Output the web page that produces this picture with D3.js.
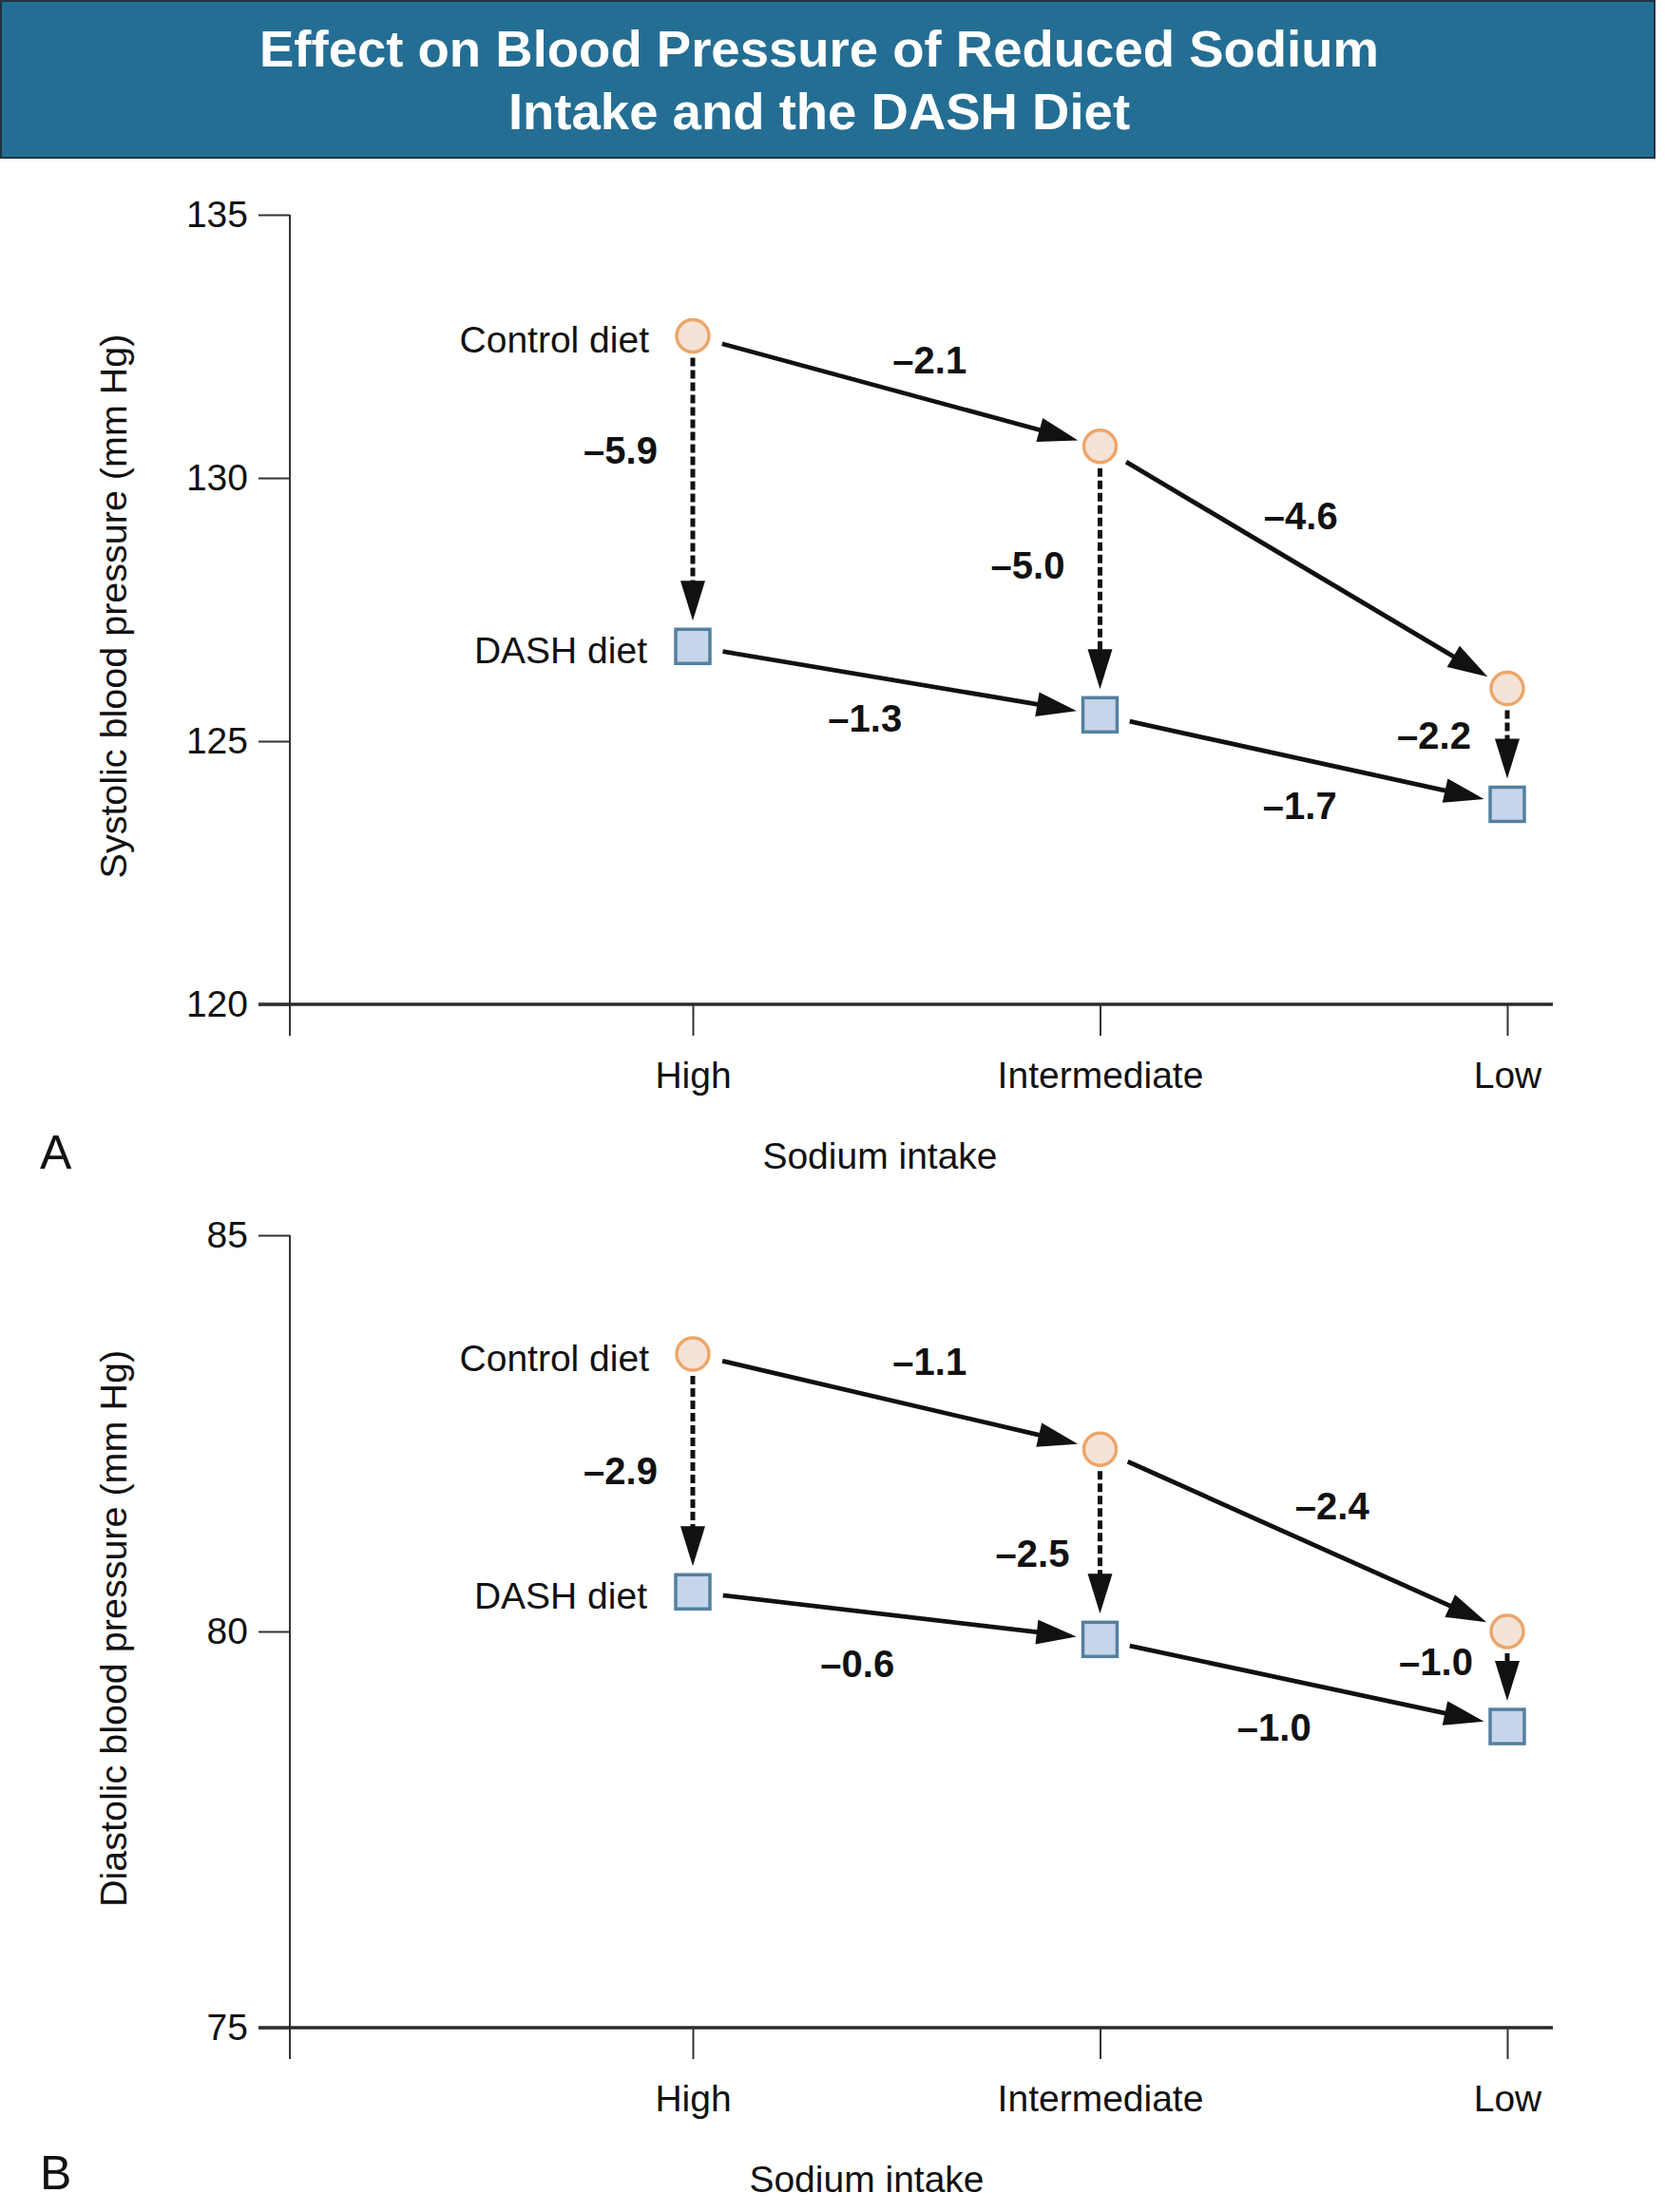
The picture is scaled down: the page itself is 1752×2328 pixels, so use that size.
<!DOCTYPE html>
<html>
<head>
<meta charset="utf-8">
<script src="https://cdn.jsdelivr.net/npm/d3@7"></script>
<style>
  body { margin: 0; background: #fff; }
  svg { display: block; font-family: "Liberation Sans", Arial, Helvetica, sans-serif; }
</style>
</head>
<body>
<svg id="chart"></svg>
<script>
// sodium levels on the x axis
const categories = ['High', 'Intermediate', 'Low'];

// panel A: systolic (mm Hg)
const systolicTicks = [120, 125, 130, 135];
const systolicControl = [132.7, 130.6, 126.0];
const systolicDash = [126.8, 125.5, 123.8];
const systolicControlSteps = ['–2.1', '–4.6'];
const systolicDashSteps = ['–1.3', '–1.7'];
const systolicDietEffect = ['–5.9', '–5.0', '–2.2'];

// panel B: diastolic (mm Hg)
const diastolicTicks = [75, 80, 85];
const diastolicControl = [83.5, 82.3, 80.0];
const diastolicDash = [80.5, 79.9, 78.8];
const diastolicControlSteps = ['–1.1', '–2.4'];
const diastolicDashSteps = ['–0.6', '–1.0'];
const diastolicDietEffect = ['–2.9', '–2.5', '–1.0'];

const W = 1752, H = 2328;
const axisX = 305;      // y axis position
const headLen = 42, headW = 13;

const svg = d3.select('#chart').attr('width', W).attr('height', H);

// title banner
svg.append('rect')
  .attr('x', 1).attr('y', 1).attr('width', 1740).attr('height', 165)
  .attr('fill', '#246e94').attr('stroke', '#1f3442').attr('stroke-width', 2);
const title = svg.append('text')
  .attr('text-anchor', 'middle')
  .attr('fill', '#fff')
  .attr('font-weight', 'bold')
  .attr('font-size', 54.5);
title.append('tspan').attr('x', 862).attr('y', 70).text('Effect on Blood Pressure of Reduced Sodium');
title.append('tspan').attr('x', 862).attr('y', 136).text('Intake and the DASH Diet');

const x = d3.scalePoint().domain(categories).range([729, 1586]);

function arrow(g, x1, y1, x2, y2, gap1, gap2, dashed) {
  const dx = x2 - x1, dy = y2 - y1, L = Math.hypot(dx, dy);
  const ux = dx / L, uy = dy / L;
  const sx = x1 + ux * gap1, sy = y1 + uy * gap1;
  const tx = x2 - ux * gap2, ty = y2 - uy * gap2;
  const bx = tx - ux * headLen, by = ty - uy * headLen;
  g.append('line')
    .attr('x1', sx).attr('y1', sy)
    .attr('x2', bx + ux * 4).attr('y2', by + uy * 4)
    .attr('stroke', '#111')
    .attr('stroke-width', dashed ? 5 : 4.8)
    .attr('stroke-dasharray', dashed ? '9,4' : null);
  g.append('path')
    .attr('d', d3.line()([
      [tx, ty],
      [bx - uy * headW, by + ux * headW],
      [bx + uy * headW, by - ux * headW]
    ]) + 'Z')
    .attr('fill', '#111');
}

function panel(opt) {
  const g = svg.append('g');
  const y = d3.scaleLinear().domain(opt.domain).range(opt.range);
  const y0 = opt.range[0], yTop = opt.range[1];

  // axes lines
  g.append('line').attr('x1', axisX).attr('x2', axisX)
    .attr('y1', yTop).attr('y2', y0 + 33)
    .attr('stroke', '#333').attr('stroke-width', 2);
  g.append('line').attr('x1', axisX - 33).attr('x2', 1634)
    .attr('y1', y0).attr('y2', y0)
    .attr('stroke', '#2a2a2a').attr('stroke-width', 3.5);

  const ya = g.append('g').attr('transform', `translate(${axisX},0)`)
    .call(d3.axisLeft(y).tickValues(opt.ticks).tickSize(33).tickPadding(11).tickFormat(d3.format('d')));
  ya.select('.domain').remove();
  ya.selectAll('line').attr('stroke', '#333').attr('stroke-width', 2);
  ya.selectAll('text').attr('font-size', 39).attr('fill', '#111').attr('font-family', null);

  const xa = g.append('g').attr('transform', `translate(0,${y0})`)
    .call(d3.axisBottom(x).tickSize(33).tickPadding(27));
  xa.select('.domain').remove();
  xa.selectAll('line').attr('stroke', '#333').attr('stroke-width', 2);
  xa.selectAll('text').attr('font-size', 39).attr('fill', '#111').attr('font-family', null);

  // axis titles and panel letter
  g.append('text')
    .attr('transform', `translate(133,${opt.yLabelCy}) rotate(-90)`)
    .attr('text-anchor', 'middle').attr('font-size', 39.5).attr('fill', '#111')
    .text(opt.yLabel);
  g.append('text')
    .attr('x', opt.xLabelCx).attr('y', y0 + 173)
    .attr('text-anchor', 'middle').attr('font-size', 39).attr('fill', '#111')
    .text('Sodium intake');
  g.append('text')
    .attr('x', 42).attr('y', y0 + opt.letterDy)
    .attr('font-size', 50).attr('fill', '#111')
    .text(opt.letter);

  const ctrl = opt.control.map((v, i) => [x(categories[i]), y(v)]);
  const dash = opt.dash.map((v, i) => [x(categories[i]), y(v)]);
  const arrows = g.append('g');
  const labels = g.append('g')
    .attr('font-size', 40).attr('font-weight', 'bold').attr('fill', '#111')
    .attr('text-anchor', 'middle');

  function label(p, q, txt, off) {
    labels.append('text')
      .attr('x', (p[0] + q[0]) / 2 + off[0])
      .attr('y', (p[1] + q[1]) / 2 + off[1])
      .attr('dy', '0.36em')
      .text(txt);
  }

  for (let i = 0; i < 2; i++) {
    arrow(arrows, ctrl[i][0], ctrl[i][1], ctrl[i + 1][0], ctrl[i + 1][1], 32, 24, false);
    label(ctrl[i], ctrl[i + 1], opt.controlSteps[i], opt.offControl[i]);
    arrow(arrows, dash[i][0], dash[i][1], dash[i + 1][0], dash[i + 1][1], 32, 25, false);
    label(dash[i], dash[i + 1], opt.dashSteps[i], opt.offDash[i]);
  }
  for (let i = 0; i < 3; i++) {
    arrow(arrows, ctrl[i][0], ctrl[i][1], dash[i][0], dash[i][1], 23, 27, true);
    label(ctrl[i], dash[i], opt.dietEffect[i], opt.offDiet[i]);
  }

  // markers
  g.selectAll('circle.ctrl').data(ctrl).join('circle')
    .attr('class', 'ctrl')
    .attr('cx', d => d[0]).attr('cy', d => d[1]).attr('r', 17)
    .attr('fill', '#f5e3d8').attr('stroke', '#eca66a').attr('stroke-width', 3.5);
  g.selectAll('rect.dash').data(dash).join('rect')
    .attr('class', 'dash')
    .attr('x', d => d[0] - 18).attr('y', d => d[1] - 18)
    .attr('width', 36).attr('height', 36)
    .attr('fill', '#c6d5e9').attr('stroke', '#55809f').attr('stroke-width', 3.5);

  // series names beside the first markers
  g.append('text').attr('x', ctrl[0][0] - 46).attr('y', ctrl[0][1] + 4).attr('dy', '0.36em')
    .attr('text-anchor', 'end').attr('font-size', 39).attr('fill', '#111').text('Control diet');
  g.append('text').attr('x', dash[0][0] - 48).attr('y', dash[0][1] + 4).attr('dy', '0.36em')
    .attr('text-anchor', 'end').attr('font-size', 39).attr('fill', '#111').text('DASH diet');
}

panel({
  domain: [120, 135], range: [1057, 226], ticks: systolicTicks,
  control: systolicControl, dash: systolicDash,
  controlSteps: systolicControlSteps, dashSteps: systolicDashSteps, dietEffect: systolicDietEffect,
  offControl: [[35, -33], [-3, -55]],
  offDash: [[-33, 39], [-4, 48]],
  offDiet: [[-76, -43], [-76, -16], [-77, -12]],
  yLabel: 'Systolic blood pressure (mm Hg)', yLabelCy: 638,
  xLabelCx: 926, letter: 'A', letterDy: 173
});

panel({
  domain: [75, 85], range: [2134, 1300], ticks: diastolicTicks,
  control: diastolicControl, dash: diastolicDash,
  controlSteps: diastolicControlSteps, dashSteps: diastolicDashSteps, dietEffect: diastolicDietEffect,
  offControl: [[35, -43], [30, -36]],
  offDash: [[-41, 50], [-31, 46]],
  offDiet: [[-76, -3], [-71, 9], [-75, -18]],
  yLabel: 'Diastolic blood pressure (mm Hg)', yLabelCy: 1714,
  xLabelCx: 912, letter: 'B', letterDy: 170
});
</script>
</body>
</html>
